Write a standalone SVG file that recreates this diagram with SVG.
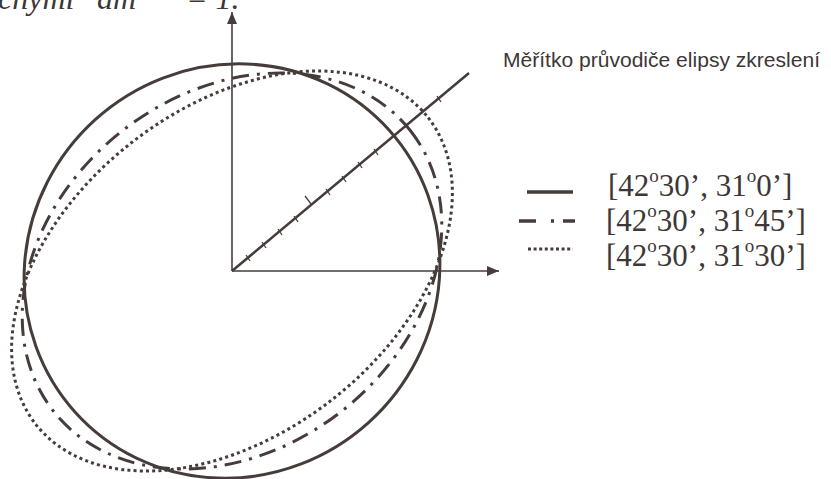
<svg xmlns="http://www.w3.org/2000/svg" width="831" height="479" viewBox="0 0 831 479">
<style>
  .ax{stroke:#463d3a;stroke-width:1.6;fill:none}
  .diag{stroke:#463d3a;stroke-width:2.6;fill:none}
  .tick{stroke:#463d3a;stroke-width:1.3;fill:none}
  .solid{stroke:#463d3a;stroke-width:3;fill:none}
  .dashdot{stroke:#463d3a;stroke-width:3;fill:none;stroke-dasharray:17 8 3 8}
  .dotted{stroke:#463d3a;stroke-width:3;fill:none;stroke-dasharray:3 3.2}
  .lg{font-family:"Liberation Serif","Times New Roman",serif;font-size:31px;fill:#3d3735}
  .lbl{font-family:"Liberation Sans",Arial,sans-serif;font-size:20px;fill:#3d3735}
</style>
<defs>
  <marker id="arr" viewBox="0 0 12 10" refX="12" refY="5" markerWidth="12" markerHeight="10" markerUnits="userSpaceOnUse" orient="auto">
    <path d="M0,0 L12,5 L0,10 Z" fill="#463d3a"/>
  </marker>
</defs>
<rect width="831" height="479" fill="#ffffff"/>
<text x="-2" y="9" font-family="'Liberation Serif','Times New Roman',serif" font-style="italic" font-size="32" fill="#3d3735">čnými<tspan x="97">dm</tspan><tspan x="186">= 1.</tspan></text>
<g id="axes">
  <line class="ax" x1="232" y1="271" x2="232" y2="12" marker-end="url(#arr)"/>
  <line class="ax" x1="232" y1="271" x2="499" y2="271" marker-end="url(#arr)"/>
</g>
<g id="ellipses">
  <ellipse id="e-solid" class="solid" cx="232" cy="271" rx="211" ry="204" transform="rotate(-42 232 271)"/>
  <ellipse id="e-dashdot" class="dashdot" cx="232" cy="271" rx="227" ry="178" transform="rotate(-38 232 271)"/>
  <ellipse id="e-dotted" class="dotted" cx="232" cy="271" rx="249" ry="163" transform="rotate(-38 232 271)"/>
</g>
<g id="scale">
  <line class="diag" x1="232" y1="271" x2="469" y2="73"/>
  <g class="tick">
    <line x1="246" y1="255" x2="250" y2="261"/>
    <line x1="262" y1="242" x2="266" y2="248"/>
    <line x1="278" y1="229" x2="282" y2="235"/>
    <line x1="294" y1="216" x2="298" y2="222"/>
    <line x1="305" y1="196" x2="311" y2="204"/>
    <line x1="326" y1="189" x2="330" y2="195"/>
    <line x1="342" y1="176" x2="346" y2="182"/>
    <line x1="358" y1="162" x2="362" y2="168"/>
    <line x1="374" y1="149" x2="378" y2="155"/>
    <line x1="437" y1="96" x2="441" y2="102"/>
  </g>
  <text class="lbl" x="503" y="67" textLength="317" lengthAdjust="spacingAndGlyphs">Měřítko průvodiče elipsy zkreslení</text>
</g>
<g id="legend">
  <line x1="527" y1="192" x2="573" y2="192" stroke="#463d3a" stroke-width="3.5"/>
  <line x1="519" y1="221" x2="575" y2="221" stroke="#463d3a" stroke-width="3.5" stroke-dasharray="17 15 3 9 12"/>
  <line x1="528" y1="249" x2="573" y2="249" stroke="#463d3a" stroke-width="3" stroke-dasharray="3 2.6"/>
  <text class="lg" x="608" y="196">[42<tspan dy="-14" font-size="19">o</tspan><tspan dy="14">30’, 31</tspan><tspan dy="-14" font-size="19">o</tspan><tspan dy="14">0’]</tspan></text>
  <text class="lg" x="606" y="231">[42<tspan dy="-14" font-size="19">o</tspan><tspan dy="14">30’, 31</tspan><tspan dy="-14" font-size="19">o</tspan><tspan dy="14">45’]</tspan></text>
  <text class="lg" x="606" y="266">[42<tspan dy="-14" font-size="19">o</tspan><tspan dy="14">30’, 31</tspan><tspan dy="-14" font-size="19">o</tspan><tspan dy="14">30’]</tspan></text>
</g>
</svg>
